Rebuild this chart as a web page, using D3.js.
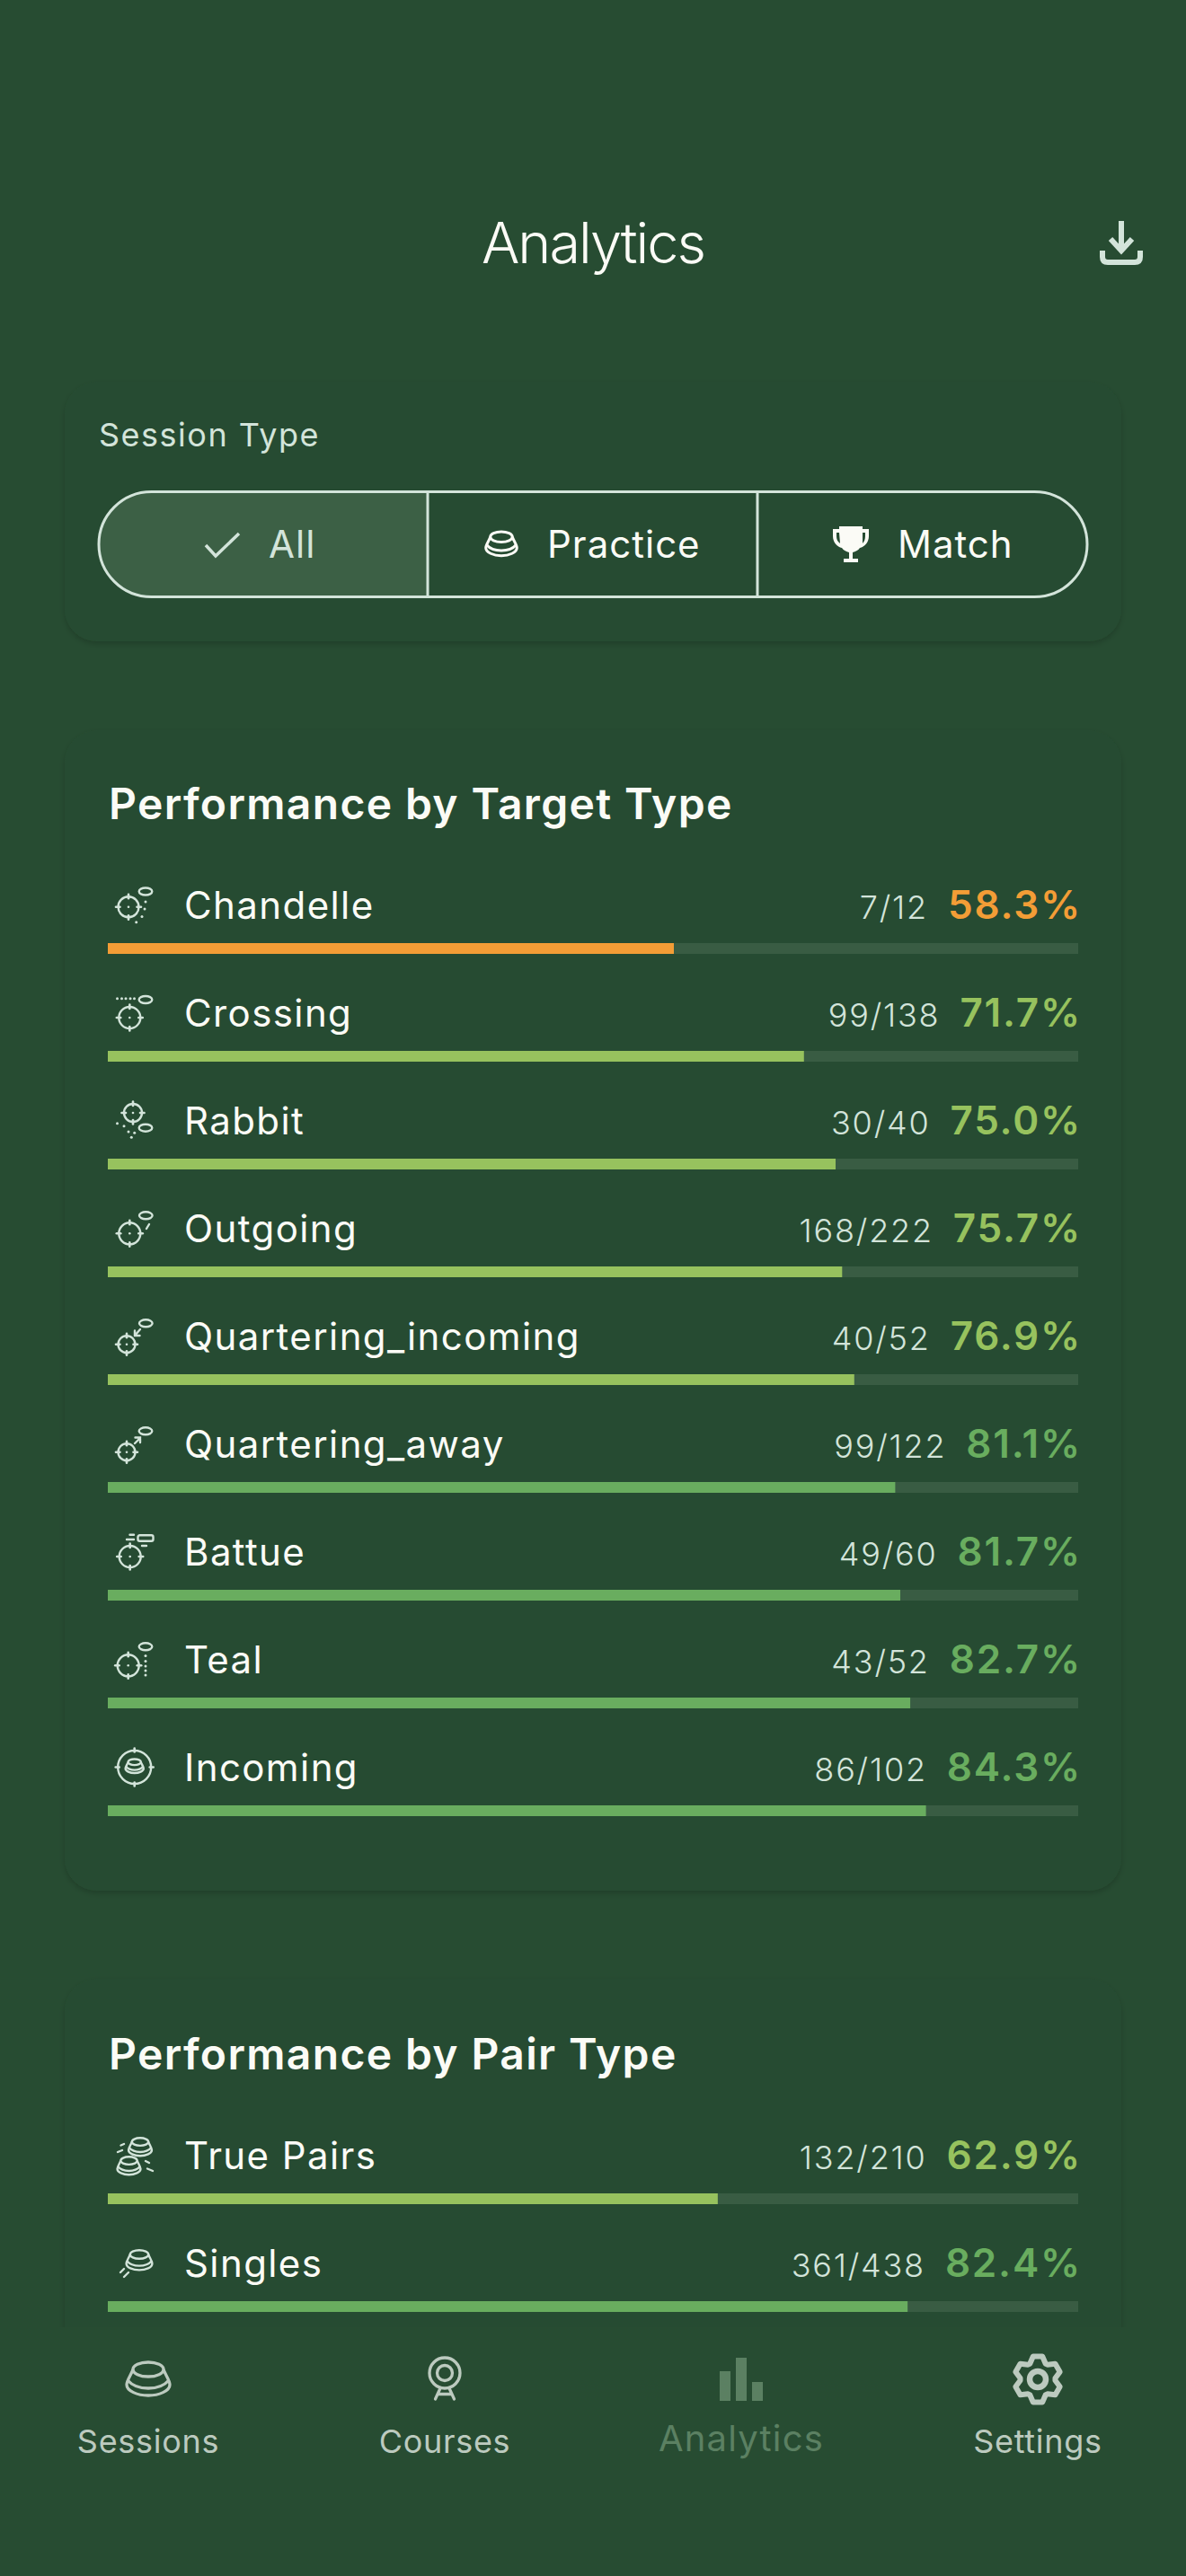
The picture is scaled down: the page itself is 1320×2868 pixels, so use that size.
<!DOCTYPE html>
<html>
<head>
<meta charset="utf-8">
<script src="https://cdn.jsdelivr.net/npm/d3@7"></script>
<style>
  html, body { margin: 0; background: #274c32; }
  svg { display: block; }
  text { font-family: Inter, "Noto Sans", sans-serif; }
</style>
</head>
<body>
<svg width="1320" height="2868" viewBox="0 0 1320 2868"></svg>
<script>
const targetLabels = ["Chandelle", "Crossing", "Rabbit", "Outgoing", "Quartering_incoming", "Quartering_away", "Battue", "Teal", "Incoming"];
const targetHits = [7, 99, 30, 168, 40, 99, 49, 43, 86];
const targetTotals = [12, 138, 40, 222, 52, 122, 60, 52, 102];
const pairLabels = ["True Pairs", "Singles"];
const pairHits = [132, 361];
const pairTotals = [210, 438];
const navLabels = ["Sessions", "Courses", "Analytics", "Settings"];

const svg = d3.select("svg");
const BG = "#274c32", ICON = "#d3e4da", WHITE = "#fbfbf6", TRACK = "#395c43";

const defs = svg.append("defs");
const shadow = defs.append("filter").attr("id", "cardShadow")
    .attr("x", "-5%").attr("y", "-5%").attr("width", "110%").attr("height", "110%");
shadow.append("feDropShadow").attr("dx", 0).attr("dy", 3).attr("stdDeviation", 3)
    .attr("flood-color", "#000").attr("flood-opacity", 0.18);

svg.append("rect").attr("width", 1320).attr("height", 2868).attr("fill", BG);

const xScale = d3.scaleLinear().domain([0, 1]).range([120, 1200]);
const colorScale = d3.scaleThreshold().domain([0.6, 0.8]).range(["#f39d36", "#97c25e", "#69ad5f"]);
const pctFormat = d3.format(".1%");

// Cards
const cards = [[425, 289], [813, 1292], [2203, 600]];
svg.selectAll(".card").data(cards).enter().append("rect")
    .attr("class", "card")
    .attr("x", 72).attr("y", d => d[0])
    .attr("width", 1176).attr("height", d => d[1])
    .attr("rx", 36)
    .attr("fill", BG)
    .attr("filter", "url(#cardShadow)");

// Header
svg.append("text").attr("x", 660).attr("y", 293).attr("text-anchor", "middle")
    .attr("font-size", 63).attr("font-weight", 350).attr("letter-spacing", -2).attr("fill", WHITE).text("Analytics");

svg.append("path")
    .attr("d", "M1248,246V279M1236,266L1248,279L1260,266M1227,279V286Q1227,292 1233,292H1263Q1269,292 1269,286V279")
    .attr("fill", "none").attr("stroke", ICON).attr("stroke-width", 6);

// Session type filter
svg.append("text").attr("x", 110).attr("y", 497)
    .attr("font-size", 36).attr("letter-spacing", 1.5).attr("fill", ICON).text("Session Type");

const segPath = "M476,547.5H169A58.5,58.5 0 0 0 169,664.5H476Z";
svg.append("path").attr("d", segPath).attr("fill", "#3c6045");
svg.append("rect").attr("x", 110).attr("y", 547.5).attr("width", 1100).attr("height", 117)
    .attr("rx", 58.5).attr("fill", "none").attr("stroke", ICON).attr("stroke-width", 3);
svg.selectAll(".divider").data([476, 843]).enter().append("line")
    .attr("x1", d => d).attr("x2", d => d).attr("y1", 547).attr("y2", 665)
    .attr("stroke", ICON).attr("stroke-width", 3);

svg.append("path").attr("d", "M229,607L240,619L266,594")
    .attr("fill", "none").attr("stroke", ICON).attr("stroke-width", 3.5);
svg.append("text").attr("x", 299).attr("y", 621).attr("font-size", 42).attr("letter-spacing", 1).attr("fill", ICON).text("All");
svg.append("text").attr("x", 609).attr("y", 621).attr("font-size", 42).attr("letter-spacing", 1).attr("fill", WHITE).text("Practice");
svg.append("text").attr("x", 999).attr("y", 621).attr("font-size", 42).attr("letter-spacing", 1).attr("fill", WHITE).text("Match");

// Puck shape, drawn 50 wide around 0,0
const puck = (g, cx, cy, k, sw, color) => {
    const p = g.append("g").attr("transform", `translate(${cx},${cy}) scale(${k})`)
        .attr("fill", "none").attr("stroke", color).attr("stroke-width", sw / k);
    p.append("ellipse").attr("cy", -10).attr("rx", 17).attr("ry", 8);
    p.append("path").attr("d", "M-17,-10C-19,-4 -24,2 -24,7C-24,14 -12,19 0,19C12,19 24,14 24,7C24,2 19,-4 17,-10");
    p.append("path").attr("d", "M-23,2C-17,9 -8,11 0,11C8,11 17,9 23,2");
};
puck(svg, 558, 605, 0.72, 3, WHITE);

// Trophy
svg.append("path")
    .attr("d", "M934,586H960V589H967V597C967,604 962,609 957,610C955,613 952,614 949,615V622H955V626H939V622H945V615C942,614 939,613 937,610C932,609 927,604 927,597V589H934ZM934,593H931V597C931,600 932,603 935,605ZM960,593V605C962,603 963,600 963,597V593Z")
    .attr("fill", WHITE).attr("fill-rule", "evenodd");

// Row icons, 42 wide, origin at top left of the icon box
const reticle = (g, cx, cy, r) => {
    g.append("circle").attr("cx", cx).attr("cy", cy).attr("r", r).attr("fill", "none").attr("stroke", ICON).attr("stroke-width", 2.4);
    g.append("circle").attr("cx", cx).attr("cy", cy).attr("r", 1.3).attr("fill", ICON);
    [[1, 0], [-1, 0], [0, 1], [0, -1]].forEach(([a, b]) => {
        g.append("line").attr("x1", cx + a * (r - 2)).attr("x2", cx + a * (r + 2.5))
            .attr("y1", cy + b * (r - 2)).attr("y2", cy + b * (r + 2.5))
            .attr("stroke", ICON).attr("stroke-width", 2.6).attr("stroke-linecap", "round");
    });
};
const disc = (g, cx, cy) => g.append("ellipse").attr("cx", cx).attr("cy", cy).attr("rx", 7.3).attr("ry", 4)
    .attr("fill", "none").attr("stroke", ICON).attr("stroke-width", 2.4);
const dots = (g, pts) => pts.forEach(p => g.append("circle").attr("cx", p[0]).attr("cy", p[1]).attr("r", 1.5).attr("fill", ICON));
const strokes = (g, d, w) => g.append("path").attr("d", d).attr("fill", "none").attr("stroke", ICON)
    .attr("stroke-width", w || 2.4).attr("stroke-linecap", "round");

const iconDraw = {
    Chandelle: g => { reticle(g, 14, 22.7, 11.5); disc(g, 33, 5.5); dots(g, [[33, 17], [32, 25], [29, 33.5], [22.7, 39.7]]); },
    Crossing: g => { reticle(g, 15.3, 26, 12); disc(g, 33, 6); dots(g, [[1.5, 4.7], [6.5, 4.7], [11, 4.7], [16, 4.7], [20.5, 4.7]]); },
    Rabbit: g => { reticle(g, 19, 12, 10); disc(g, 33, 28.7); dots(g, [[1.5, 23.7], [9, 26.7], [14, 33], [17.3, 39.3], [20.7, 34.3]]); },
    Outgoing: g => { reticle(g, 15.3, 26.3, 12); disc(g, 33.3, 6.3); strokes(g, "M37,16L34,21"); },
    Quartering_incoming: g => { reticle(g, 12, 29.7, 9.5); disc(g, 33.3, 6.3); strokes(g, "M27,13L21,20M21,14.5V20H26.5"); },
    Quartering_away: g => { reticle(g, 12, 29.7, 9.5); disc(g, 33, 6.3); strokes(g, "M21,20L27,14M21.5,13.5H27V19"); },
    Battue: g => {
        reticle(g, 15.7, 26, 12);
        g.append("rect").attr("x", 24.5).attr("y", 2.3).attr("width", 17).attr("height", 6.5).attr("rx", 2)
            .attr("fill", "none").attr("stroke", ICON).attr("stroke-width", 2.4);
        strokes(g, "M15.5,1.8H20M12,7H20M29,14H34");
    },
    Teal: g => { reticle(g, 13.7, 27.3, 12); disc(g, 33, 6.3); dots(g, [[33, 16.5], [33, 22.5], [33, 28], [33, 33], [33, 38]]); },
    Incoming: g => {
        g.append("circle").attr("cx", 20.7).attr("cy", 20.5).attr("r", 18.5).attr("fill", "none").attr("stroke", ICON).attr("stroke-width", 2.4);
        [[1, 0], [-1, 0], [0, 1], [0, -1]].forEach(([a, b]) => strokes(g, `M${20.7 + a * 17},${20.5 + b * 17}L${20.7 + a * 21},${20.5 + b * 21}`, 2.6));
        puck(g, 20.7, 19, 0.42, 2.4, ICON);
    },
    "True Pairs": g => {
        puck(g, 27, 11, 0.54, 2.4, ICON);
        puck(g, 14.5, 32, 0.54, 2.4, ICON);
        strokes(g, "M5.5,9.5L9,8M2,17L7,15M33,27L37,29M35,35.5L41,38");
    },
    Singles: g => {
        puck(g, 26, 17, 0.6, 2.4, ICON);
        strokes(g, "M5,31L9,27M9,36L14,31");
    }
};

// Rows
const drawRows = (labels, hits, totals, yScale) => {
    const rows = labels.map((label, i) => ({ label, hit: hits[i], total: totals[i], rate: hits[i] / totals[i] }));

    svg.selectAll(null).data(rows).enter().append("rect")
        .attr("x", xScale(0)).attr("y", d => yScale(d.label))
        .attr("width", xScale(1) - xScale(0)).attr("height", 12).attr("fill", TRACK);
    svg.selectAll(null).data(rows).enter().append("rect")
        .attr("x", xScale(0)).attr("y", d => yScale(d.label))
        .attr("width", d => xScale(d.rate) - xScale(0)).attr("height", 12)
        .attr("fill", d => colorScale(d.rate));

    svg.selectAll(null).data(rows).enter().append("text")
        .attr("x", 205).attr("y", d => yScale(d.label) - 27)
        .attr("font-size", 42).attr("letter-spacing", 1.4).attr("fill", WHITE)
        .text(d => d.label);

    svg.selectAll(null).data(rows).enter().append("g")
        .attr("transform", d => `translate(129,${yScale(d.label) - 63})`)
        .each(function (d) { iconDraw[d.label](d3.select(this)); });

    rows.forEach(d => {
        const pct = svg.append("text")
            .attr("x", 1204).attr("y", yScale(d.label) - 27).attr("text-anchor", "end")
            .attr("font-size", 44).attr("font-weight", 600).attr("letter-spacing", 1.8)
            .attr("fill", colorScale(d.rate)).text(pctFormat(d.rate));
        svg.append("text")
            .attr("x", 1204 - pct.node().getComputedTextLength() - 22).attr("y", yScale(d.label) - 27).attr("text-anchor", "end")
            .attr("font-size", 36).attr("font-weight", 350).attr("letter-spacing", 1.8)
            .attr("fill", ICON).text(`${d.hit}/${d.total}`);
    });
};

svg.append("text").attr("x", 121).attr("y", 912).attr("font-size", 48).attr("font-weight", 600)
    .attr("letter-spacing", 1.35).attr("fill", WHITE).text("Performance by Target Type");
drawRows(targetLabels, targetHits, targetTotals, d3.scalePoint().domain(targetLabels).range([1050, 2010]));

svg.append("text").attr("x", 121).attr("y", 2304).attr("font-size", 48).attr("font-weight", 600)
    .attr("letter-spacing", 1.35).attr("fill", WHITE).text("Performance by Pair Type");
drawRows(pairLabels, pairHits, pairTotals, d3.scalePoint().domain(pairLabels).range([2442, 2562]));

// Bottom navigation
svg.append("rect").attr("y", 2591).attr("width", 1320).attr("height", 277).attr("fill", BG);

const navColor = "#bccabf", navActive = "#5b8062";
const navX = d3.scalePoint().domain(navLabels).range([165, 1155]);
svg.selectAll(".nav").data(navLabels).enter().append("text")
    .attr("class", "nav")
    .attr("x", d => navX(d))
    .attr("y", d => d === "Analytics" ? 2729 : 2731)
    .attr("text-anchor", "middle")
    .attr("font-size", d => d === "Analytics" ? 40 : 36)
    .attr("letter-spacing", d => d === "Analytics" ? 1.2 : 0.7)
    .attr("fill", d => d === "Analytics" ? navActive : navColor)
    .text(d => d);

puck(svg, navX("Sessions"), 2648, 1, 3.3, navColor);

const target = svg.append("g").attr("fill", "none").attr("stroke", navColor).attr("stroke-width", 3.3);
target.append("circle").attr("cx", 495).attr("cy", 2642).attr("r", 17);
target.append("circle").attr("cx", 495).attr("cy", 2642).attr("r", 8.5);
target.append("path").attr("stroke-linecap", "round").attr("d", "M490,2659L484.5,2671M500,2659L505.5,2671M487,2665.5H503");

// Analytics icon bars, purely an icon
svg.selectAll(".navbar").data([[801, 2640], [819, 2625], [837, 2652]]).enter().append("rect")
    .attr("class", "navbar")
    .attr("x", d => d[0]).attr("y", d => d[1])
    .attr("width", 12).attr("height", d => 2673 - d[1]).attr("fill", navActive);

const gearPts = [];
d3.range(6).forEach(i => {
    const a = -Math.PI / 2 + i * Math.PI / 3;
    [[-0.46, 19.5], [-0.2, 26], [0.2, 26], [0.46, 19.5]].forEach(([da, r]) => {
        gearPts.push([1155 + r * Math.cos(a + da), 2649 + r * Math.sin(a + da)]);
    });
});
svg.append("path").attr("d", d3.line()(gearPts) + "Z")
    .attr("fill", "none").attr("stroke", navColor).attr("stroke-width", 6).attr("stroke-linejoin", "round");
svg.append("circle").attr("cx", 1155).attr("cy", 2649).attr("r", 9)
    .attr("fill", "none").attr("stroke", navColor).attr("stroke-width", 6.5);
</script>
</body>
</html>
